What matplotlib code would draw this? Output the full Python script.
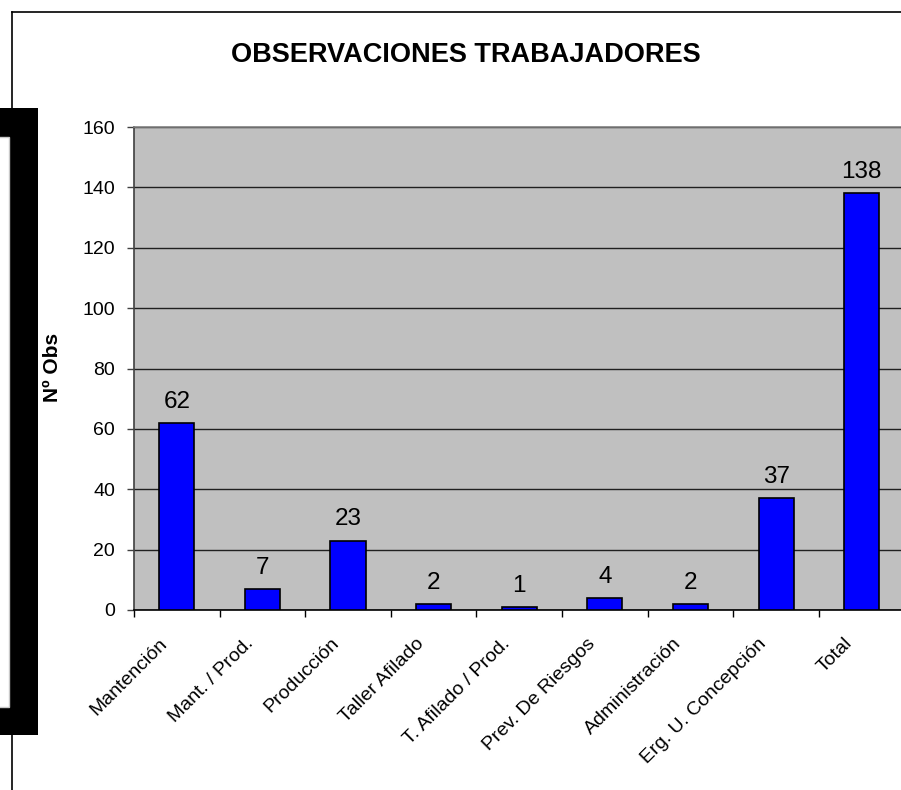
import matplotlib
matplotlib.use("Agg")
import matplotlib.pyplot as plt
from matplotlib.patches import Rectangle
from matplotlib.lines import Line2D
from matplotlib.transforms import ScaledTranslation

categories = ["Mantención", "Mant. / Prod.", "Producción", "Taller Afilado",
              "T. Afilado / Prod.", "Prev. De Riesgos", "Administración",
              "Erg. U. Concepción", "Total"]
values = [62, 7, 23, 2, 1, 4, 2, 37, 138]
yticks = [0, 20, 40, 60, 80, 100, 120, 140, 160]

plt.rcParams["font.family"] = ["Liberation Sans", "DejaVu Sans"]

W, H = 901, 790
fig = plt.figure(figsize=(W / 100, H / 100), dpi=100)

# outer frame (only top and left visible)
fig.add_artist(Line2D([12 / W, 12 / W], [0, 1 - 12 / H], color="black", lw=1.2))
fig.add_artist(Line2D([12 / W, 1.0], [1 - 12 / H, 1 - 12 / H], color="black", lw=1.2))

# thick black frame on the left edge
fig.add_artist(Rectangle((0, 1 - 735 / H), 38 / W, 627 / H, transform=fig.transFigure,
                         facecolor="black", edgecolor="none"))
fig.add_artist(Rectangle((-10 / W, 1 - 707 / H), 19 / W, 570 / H, transform=fig.transFigure,
                         facecolor="white", edgecolor="#c8c8c8", lw=1))

ax = fig.add_axes([134 / W, 1 - 610 / H, 770.5 / W, 483 / H])
ax.set_facecolor("#c0c0c0")
x = list(range(len(categories)))
ax.bar(x, values, width=0.41, color="#0000ff", edgecolor="black", linewidth=1.2, zorder=3)

for xi, v in zip(x, values):
    ax.annotate(str(v), (xi, v), xytext=(0, 11), textcoords="offset points",
                ha="center", va="baseline", fontsize=17.5, zorder=4)

ax.set_xlim(-0.5, len(categories) - 0.5)
ax.set_ylim(0, 160)
ax.set_yticks(yticks)
ax.yaxis.grid(True, color="#202020", linewidth=1)
ax.set_axisbelow(True)
ax.tick_params(axis="y", direction="out", length=5, width=1, color="#404040",
               labelsize=14, pad=8.5)

ax.set_xticks(x)
ax.set_xticklabels(categories, rotation=45, ha="right", rotation_mode="anchor", fontsize=14)
ax.tick_params(axis="x", which="major", length=0, pad=18)
shift = ScaledTranslation(-18 / 100, 0, fig.dpi_scale_trans)
for lab in ax.get_xticklabels():
    lab.set_transform(lab.get_transform() + shift)
ax.set_xticks([i + 0.5 for i in range(-1, len(categories))], minor=True)
ax.tick_params(axis="x", which="minor", direction="out", length=5, width=1, color="black")

ax.spines["top"].set_color("#808080")
ax.spines["left"].set_color("#404040")
ax.spines["right"].set_visible(False)
ax.spines["bottom"].set_color("black")
for s in ax.spines.values():
    s.set_linewidth(1.2)

fig.text(466 / W, 1 - 62 / H, "OBSERVACIONES TRABAJADORES", ha="center", va="baseline",
         fontsize=19.5, fontweight="bold")
fig.text(52 / W, 1 - 367 / H, "Nº Obs", rotation=90, ha="center", va="center",
         fontsize=15, fontweight="bold")

fig.savefig("out.png", dpi=100)
